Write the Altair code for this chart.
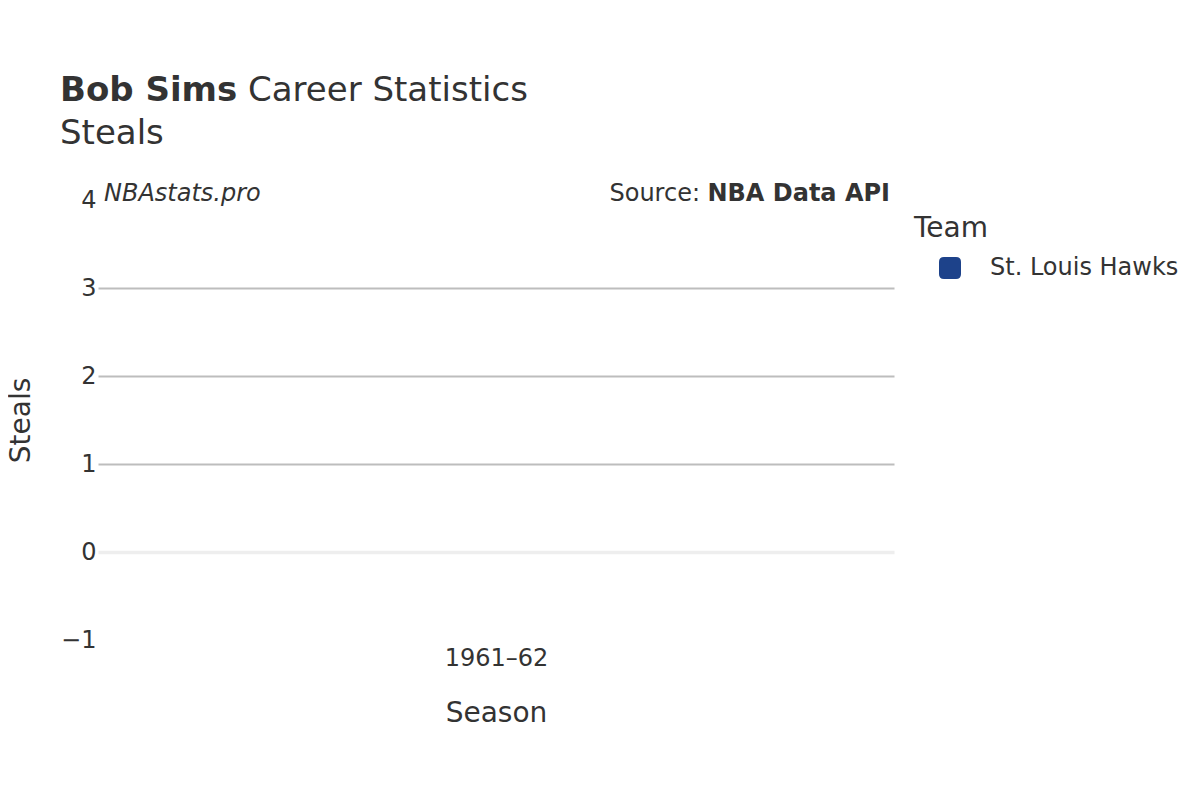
import altair as alt
import pandas as pd

# ---- data ----
seasons = ["1961–62"]
teams = ["St. Louis Hawks"]
steals = [None]  # steals were not recorded in this season
team_colors = ["#1d428a"]
y_ticks = [-1, 0, 1, 2, 3, 4]

title_bold = ["Bob Sims"]
title_rest = ["Career Statistics"]
subtitle = ["Steals"]
watermark = ["NBAstats.pro"]
source_lbl = ["Source:"]
source_val = ["NBA Data API"]

df = pd.DataFrame({"Season": seasons, "Team": teams, "Steals": steals})

FONT = "DejaVu Sans"
TXT = "#333333"

base = alt.Chart(df)

line = base.mark_line(point=True, strokeWidth=3).encode(
    x=alt.X(
        "Season:N",
        sort=seasons,
        scale=alt.Scale(domain=seasons),
        axis=alt.Axis(
            title="Season",
            labelAngle=0,
            labelFontSize=24,
            titleFontSize=28,
            labelPadding=6,
            titlePadding=29,
            ticks=False,
            domain=False,
            grid=False,
            labelColor=TXT,
            titleColor=TXT,
            titleFontWeight="normal",
        ),
    ),
    y=alt.Y(
        "Steals:Q",
        scale=alt.Scale(domain=[-1, 4], nice=False, zero=False),
        axis=alt.Axis(
            title="Steals",
            values=y_ticks,
            labelFontSize=24,
            titleFontSize=28,
            labelPadding=2,
            ticks=False,
            domain=False,
            grid=True,
            gridColor={"condition": {"test": "datum.value === 0", "value": "#eeeeee"}, "value": "#bdbdbd"},
            gridWidth={"condition": {"test": "datum.value === 0", "value": 3.5}, "value": 2},
            gridOpacity={"condition": {"test": "datum.value === -1 || datum.value === 4", "value": 0}, "value": 1},
            labelColor=TXT,
            titleColor=TXT,
            titleFontWeight="normal",
            titleAngle=-90,
            titleX=-77,
            titleY=220,
            titleAlign="center",
            titleBaseline="middle",
        ),
    ),
    color=alt.Color(
        "Team:N",
        scale=alt.Scale(domain=teams, range=team_colors),
        legend=alt.Legend(
            title="Team",
            orient="none",
            legendX=816,
            legendY=15,
            titleFontSize=28,
            titleFontWeight="normal",
            titleColor=TXT,
            labelFontSize=24,
            labelColor=TXT,
            labelLimit=0,
            symbolType="M-0.55,-1L0.55,-1Q1,-1 1,-0.55L1,0.55Q1,1 0.55,1L-0.55,1Q-1,1 -1,0.55L-1,-0.55Q-1,-1 -0.55,-1Z",
            symbolSize=484,
            symbolFillColor="#1d428a",
            symbolStrokeWidth=0,
            symbolOffset=24,
            labelOffset=28,
            titlePadding=13,
            padding=0,
        ),
    ),
)

def txt(values, x, y, size, weight="normal", style="normal", align="left", baseline="alphabetic"):
    d = pd.DataFrame({"t": values})
    return alt.Chart(d).mark_text(
        font=FONT, fontSize=size, fontWeight=weight, fontStyle=style,
        align=align, baseline=baseline, color=TXT, clip=False,
    ).encode(x=alt.value(x), y=alt.value(y), text="t:N")

layers = [
    line,
    txt(title_bold, -38, -99, 34, weight="bold"),
    txt(title_rest, 150, -99, 34),
    txt(subtitle, -38, -56, 34),
    txt(watermark, 6, 1, 24, style="italic"),
    txt(source_val, 792, 1, 24, weight="bold", align="right"),
    txt(source_lbl, 602, 1, 24, align="right"),
]

chart = alt.layer(*layers).properties(
    width=796,
    height=440,
    autosize=alt.AutoSizeParams(type="none"),
    padding={"left": 90, "top": 192, "right": 298, "bottom": 152},
).configure(
    font=FONT,
).configure_view(
    stroke=None,
)

chart.save("out.html", embed_options={"renderer": "svg", "actions": False})
